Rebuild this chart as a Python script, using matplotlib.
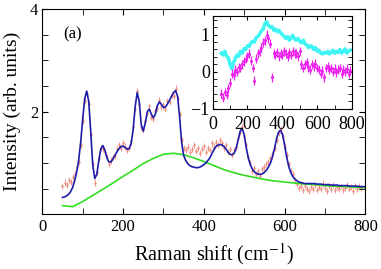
import numpy as np
import matplotlib
matplotlib.use("Agg")
import matplotlib.pyplot as plt
from matplotlib.ticker import MultipleLocator

plt.rcParams['font.family'] = ['Liberation Serif', 'DejaVu Serif']
plt.rcParams['mathtext.fontset'] = 'stix'

# main panel: measured spectrum, fit and background (Raman shift in cm-1)
shift = np.arange(50, 795, 5)
measured = [0.55, 0.62, 0.58, 0.66, 0.63, 0.72, 0.78, 0.92, 1.02, 1.35,
            1.82, 2.2, 2.35, 2.15, 1.55, 0.98, 0.62, 0.82, 1.1, 1.3,
            1.28, 1.22, 1.12, 0.98, 1.05, 1.12, 1.14, 1.28, 1.35, 1.3,
            1.38, 1.32, 1.25, 1.3, 1.42, 1.7, 2.05, 2.4, 2.15, 1.7,
            1.65, 1.82, 1.98, 2.1, 1.9, 1.85, 2.02, 2.08, 2.22, 2.1,
            2.12, 2.05, 2.2, 2.18, 2.32, 2.3, 2.45, 2.25, 1.95, 1.45,
            1.3, 1.25, 1.32, 1.22, 1.28, 1.35, 1.24, 1.3, 1.2, 1.27,
            1.33, 1.22, 1.3, 1.25, 1.38, 1.32, 1.4, 1.35, 1.45, 1.38,
            1.3, 1.35, 1.22, 1.28, 1.15, 1.25, 1.32, 1.48, 1.6, 1.7,
            1.52, 1.35, 1.12, 1.0, 0.85, 0.9, 0.78, 0.85, 0.74, 0.88,
            0.92, 0.98, 1.02, 1.1, 1.18, 1.3, 1.45, 1.58, 1.66, 1.5,
            1.32, 1.15, 0.98, 0.85, 0.78, 0.66, 0.6, 0.52, 0.55, 0.48,
            0.56, 0.5, 0.45, 0.54, 0.5, 0.58, 0.47, 0.53, 0.5, 0.6,
            0.52, 0.46, 0.55, 0.5, 0.57, 0.48, 0.53, 0.5, 0.56, 0.47,
            0.52, 0.58, 0.5, 0.54, 0.46, 0.55, 0.5, 0.56, 0.52]

fit_shift = np.arange(50, 805, 5)
fit = [0.33, 0.34, 0.36, 0.39, 0.44, 0.52, 0.65, 0.82, 1.05, 1.4,
       1.85, 2.25, 2.4, 2.2, 1.6, 0.95, 0.7, 0.78, 1.05, 1.28,
       1.34, 1.25, 1.1, 1.02, 1.02, 1.08, 1.15, 1.22, 1.28, 1.32,
       1.33, 1.3, 1.27, 1.28, 1.38, 1.65, 2.1, 2.37, 2.2, 1.75,
       1.62, 1.78, 2.0, 2.05, 1.95, 1.88, 1.95, 2.12, 2.19, 2.14,
       2.08, 2.09, 2.15, 2.22, 2.3, 2.37, 2.41, 2.3, 1.9, 1.4,
       1.15, 1.05, 0.99, 0.95, 0.93, 0.92, 0.91, 0.91, 0.92, 0.94,
       0.97, 1.0, 1.05, 1.1, 1.18, 1.26, 1.32, 1.35, 1.36, 1.35,
       1.32, 1.27, 1.21, 1.17, 1.16, 1.19, 1.28, 1.45, 1.62, 1.67,
       1.55, 1.3, 1.1, 0.97, 0.88, 0.83, 0.8, 0.78, 0.78, 0.79,
       0.82, 0.86, 0.92, 1.0, 1.12, 1.28, 1.47, 1.6, 1.64, 1.55,
       1.35, 1.12, 0.94, 0.82, 0.74, 0.69, 0.66, 0.63, 0.62, 0.61,
       0.6, 0.6, 0.6, 0.6, 0.6, 0.6, 0.59, 0.59, 0.59, 0.58,
       0.58, 0.58, 0.58, 0.57, 0.57, 0.57, 0.57, 0.56, 0.56, 0.56,
       0.56, 0.56, 0.55, 0.55, 0.55, 0.55, 0.55, 0.54, 0.54, 0.54,
       0.54]

bg_shift = np.arange(50, 825, 25)
background = [0.17, 0.15, 0.25, 0.37, 0.49, 0.61, 0.74, 0.86, 0.99, 1.09,
              1.17, 1.19, 1.16, 1.1, 1.03, 0.95, 0.87, 0.81, 0.76, 0.72,
              0.68, 0.65, 0.63, 0.61, 0.59, 0.58, 0.56, 0.55, 0.54, 0.53,
              0.52]

# inset: two difference spectra
inset_shift = np.arange(50, 800, 10)
cyan_curve = [0.5, 0.45, 0.55, 0.42, 0.38, 0.2, 0.08, 0.25, 0.35, 0.45,
              0.42, 0.55, 0.5, 0.62, 0.6, 0.7, 0.68, 0.78, 0.82, 0.8,
              0.92, 0.95, 1.02, 1.1, 1.15, 1.3, 1.35, 1.25, 1.2, 1.22,
              1.12, 1.15, 1.08, 1.12, 1.05, 1.0, 0.95, 0.9, 0.95, 0.85,
              0.92, 0.98, 0.88, 0.85, 0.9, 0.82, 0.78, 0.85, 0.75, 0.72,
              0.65, 0.7, 0.68, 0.6, 0.65, 0.55, 0.58, 0.5, 0.48, 0.52,
              0.5, 0.55, 0.48, 0.52, 0.58, 0.5, 0.55, 0.52, 0.6, 0.5,
              0.55, 0.62, 0.5, 0.55, 0.58]
magenta_curve = [-0.6, -0.7, -0.55, -0.62, -0.45, -0.3, -0.05, -0.1, 0.05, 0.0,
                 0.12, 0.1, 0.2, 0.28, 0.35, 0.42, 0.48, 0.3, 0.1, -0.25,
                 0.35, 0.5, 0.55, 0.65, 0.78, 0.85, 1.0, 0.9, 0.75, -0.15,
                 0.5, 0.45, 0.52, 0.42, 0.5, 0.45, 0.55, 0.48, 0.4, 0.52,
                 0.45, 0.55, 0.48, 0.5, 0.42, 0.55, 0.2, 0.1, 0.2, 0.25,
                 0.12, 0.05, 0.2, 0.15, 0.22, 0.1, 0.05, -0.05, 0.02, -0.15,
                 0.1, 0.15, 0.05, 0.1, 0.0, 0.08, -0.02, 0.05, 0.1, -0.05,
                 0.05, 0.0, 0.08, -0.05, 0.02]

fig = plt.figure(figsize=(3.81, 2.69), dpi=100)
ax = fig.add_axes([0.111, 0.203, 0.848, 0.764])

ax.errorbar(shift, measured, yerr=0.06, fmt='.', color='#f08a7a', ms=1.5,
            elinewidth=0.6, capsize=0, zorder=1)
ax.plot(bg_shift, background, color='#33dd22', lw=1.2, zorder=2)
ax.plot(fit_shift, fit, color='#1c1caa', lw=1.2, zorder=3)

ax.set_xlim(0, 800)
ax.set_ylim(0, 4)
ax.xaxis.set_major_locator(MultipleLocator(200))
ax.xaxis.set_minor_locator(MultipleLocator(100))
ax.set_yticks([2, 4])
ax.yaxis.set_minor_locator(MultipleLocator(0.5))
ax.tick_params(which='both', direction='in', top=True, right=True, length=4,
               labelsize=12, pad=3)
ax.set_xlabel('Raman shift (cm$^{-1}$)', fontsize=14.5, labelpad=2)
ax.xaxis.set_label_coords(0.53, -0.13)
ax.set_ylabel('Intensity (arb. units)', fontsize=14, labelpad=6)
ax.text(0.065, 0.855, '(a)', transform=ax.transAxes, fontsize=12)

ins = fig.add_axes([0.558, 0.596, 0.366, 0.344])
ins.plot(inset_shift, cyan_curve, color='#3ff4f4', lw=2.5)
ins.errorbar(inset_shift, magenta_curve, yerr=0.12, fmt='.', color='#ee22ee',
             ms=2.5, elinewidth=0.9, capsize=0)
ins.set_xlim(0, 800)
ins.set_ylim(-1, 1.5)
ins.xaxis.set_major_locator(MultipleLocator(200))
ins.xaxis.set_minor_locator(MultipleLocator(100))
ins.yaxis.set_major_locator(MultipleLocator(1))
ins.yaxis.set_minor_locator(MultipleLocator(0.2))
ins.tick_params(which='both', direction='in', top=True, right=True, length=3,
                labelsize=13)
ins.tick_params(axis='x', pad=5)
ins.tick_params(axis='y', pad=2)

fig.savefig('out.png', dpi=100)
